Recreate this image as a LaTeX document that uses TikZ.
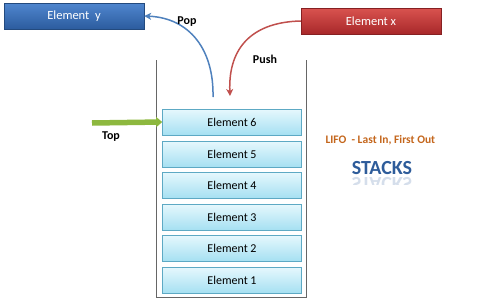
\documentclass[tikz,border=0pt]{standalone}
\usepackage{fontspec}
\setmainfont{Carlito}
\usetikzlibrary{arrows.meta,shadows}
\definecolor{popblue}{HTML}{4F81BD}
\definecolor{pushred}{HTML}{C0504D}
\definecolor{ybluetop}{HTML}{4F86CF}
\definecolor{ybluebot}{HTML}{2C5C9E}
\definecolor{xredtop}{HTML}{D9534F}
\definecolor{xredbot}{HTML}{A8282A}
\definecolor{celltop}{HTML}{E6F8FD}
\definecolor{cellbot}{HTML}{A6E0F2}
\definecolor{cellborder}{HTML}{5DA9C4}
\definecolor{lifo}{HTML}{C4661C}
\definecolor{stackblue}{HTML}{2E5C9A}
\definecolor{topgreen}{HTML}{8DB83F}
\tikzset{
  cell/.style={draw=cellborder, line width=0.6pt, top color=celltop, bottom color=cellbot,
    minimum width=139pt, minimum height=26pt, inner sep=0pt, font=\fontsize{12}{14}\selectfont,
    drop shadow={shadow xshift=0.8pt, shadow yshift=-0.8pt, opacity=0.25}},
  ybox/.style={draw=ybluebot!80!black, line width=0.4pt, top color=ybluetop, bottom color=ybluebot,
    minimum width=140pt, minimum height=26pt, inner sep=0pt, text=white, font=\fontsize{12.5}{14}\selectfont,
    drop shadow={shadow xshift=1pt, shadow yshift=-1pt, opacity=0.3}},
  xbox/.style={draw=xredbot!80!black, line width=0.4pt, top color=xredtop, bottom color=xredbot,
    minimum width=140pt, minimum height=26pt, inner sep=0pt, text=white, font=\fontsize{12.5}{14}\selectfont,
    drop shadow={shadow xshift=1pt, shadow yshift=-1pt, opacity=0.3}},
  lbl/.style={font=\bfseries\fontsize{12}{14}\selectfont},
  wall/.style={draw=black!60, line width=0.9pt},
  curvearrow/.style={line width=1.5pt, -{Stealth[length=7pt,width=7pt,inset=2pt]}},
  stackstxt/.style={font=\bfseries\fontsize{20}{22}\selectfont, text=stackblue},
}
\begin{document}
\begin{tikzpicture}[x=1pt,y=-1pt]
\useasboundingbox (0,0) rectangle (485,300);
% container
\coordinate (wlt) at (156,60);
\coordinate (wlb) at (156,297);
\coordinate (wrb) at (306,297);
\coordinate (wrt) at (306,60);
\draw[wall] (wlt) -- (wlb) -- (wrb) -- (wrt);
% stack cells
\node[cell] (e6) at (232,122) {Element 6};
\node[cell] (e5) at (232,154) {Element 5};
\node[cell] (e4) at (232,185) {Element 4};
\node[cell] (e3) at (232,217) {Element 3};
\node[cell] (e2) at (232,248) {Element 2};
\node[cell] (e1) at (232,280) {Element 1};
% top boxes
\node[ybox] (ey) at (74,16) {Element\ \ y};
\node[xbox] (ex) at (371,21) {Element x};
% arrows
\coordinate (popstart) at (213,97);
\coordinate (pushend) at (230,96);
\draw[curvearrow, popblue] (popstart) .. controls (214,50) and (190,18) .. (ey.east);
\node[lbl] (pop) at (187,22) {Pop};
\draw[curvearrow, pushred] (ex.west) .. controls (255,22) and (228,45) .. (pushend);
\node[lbl] (push) at (265,59) {Push};
% top pointer
\coordinate (topstart) at (92,123);
\draw[line width=5.5pt, topgreen, -{Triangle[length=6pt,width=10pt]}] (topstart) -- (e6.west);
\node[lbl] (toplbl) at (111,137) {Top};
% side texts
\node[lbl, font=\bfseries\fontsize{11.5}{13}\selectfont, text=lifo, anchor=west] (lifo) at (322,140) {LIFO\ \ - Last In, First Out};
\node[stackstxt] (stacks) at (382,168) {STACKS};
\begin{scope}
  \clip (340,175) rectangle (425,184);
  \node[stackstxt, opacity=0.2, yscale=-1, anchor=south] (stacksrefl) at (382,174) {STACKS};
\end{scope}
\end{tikzpicture}
\end{document}
